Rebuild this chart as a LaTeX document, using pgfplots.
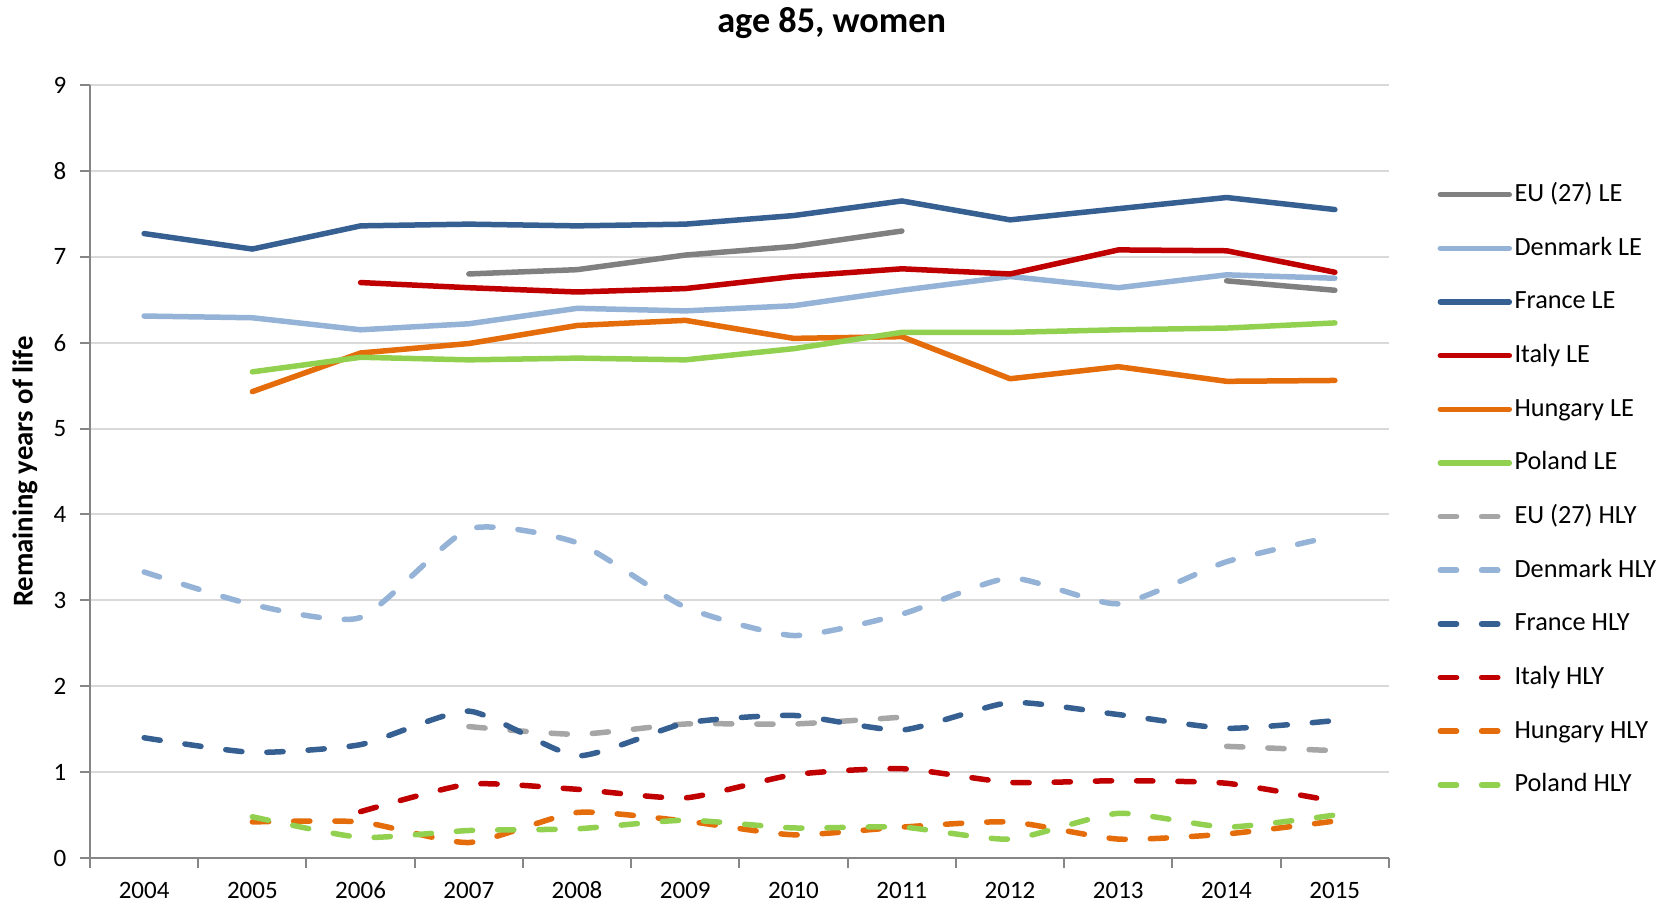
\documentclass[border=0pt]{standalone}
\usepackage{fontspec}
\setmainfont{Carlito}
\usepackage{pgfplots}
\pgfplotsset{compat=1.18}
\definecolor{eule}{RGB}{128,128,128}
\definecolor{euhly}{RGB}{166,166,166}
\definecolor{dk}{RGB}{149,179,215}
\definecolor{fr}{RGB}{55,96,146}
\definecolor{it}{RGB}{192,0,0}
\definecolor{hu}{RGB}{228,108,10}
\definecolor{pl}{RGB}{146,208,80}
\definecolor{gridgray}{RGB}{217,217,217}
\definecolor{axisgray}{RGB}{134,134,134}

\pgfplotsset{
  le/.style={line width=2.2pt, line cap=round, line join=round},
  hly/.style={line width=2.2pt, line cap=round, line join=round, smooth, tension=0.35, dash pattern=on 6.5pt off 10pt},
}

\begin{document}
\begin{tikzpicture}
\path[use as bounding box] (-36pt,-18.8pt) rectangle (628.8pt,343.2pt);
\begin{axis}[
    at={(0,0)}, anchor=south west,
    scale only axis,
    width=519.6pt, height=309.2pt,
    xmin=2003.5, xmax=2015.5,
    ymin=0, ymax=9,
    axis x line*=bottom, axis y line*=left,
    axis line style={draw=axisgray, line width=0.8pt},
    xtick={2003.5,2004.5,...,2015.5},
    xticklabels={},
    extra x ticks={2004,...,2015},
    extra x tick style={major tick length=0pt, grid=none},
    ytick={0,...,9},
    tick style={draw=axisgray, line width=0.8pt},
    tick align=outside,
    major tick length=4pt,
    ymajorgrids, grid style={draw=gridgray, line width=0.8pt},
    /pgf/number format/assume math mode=true,
    /pgf/number format/1000 sep={},
    tick label style={font=\fontsize{10}{12}\selectfont},
    xticklabel style={yshift=-6pt},
    yticklabel style={xshift=-2pt},
    ylabel={Remaining years of life},
    every axis y label/.style={at={(axis description cs:-0.05,0.5)}, rotate=90, anchor=center, font=\fontsize{11.5}{13}\selectfont\bfseries},
    title={age 85, women},
    every axis title/.style={at={(axis description cs:0.571,1.08)}, anchor=center, font=\fontsize{14.5}{16}\selectfont\bfseries},
    legend image code/.code={\draw[#1] (0pt,0pt) -- (27.6pt,0pt);},
    legend cell align=left,
    legend style={draw=none, fill=none, inner sep=0pt,
      at={(axis description cs:1.037,0.879)}, anchor=north west,
      nodes={inner sep=1pt, text height=8pt, text depth=2.5pt},
      row sep=8.96pt,
      font=\fontsize{10.5}{12}\selectfont},
    clip=false,
]
% LE series
\addplot[le, eule] coordinates {(2007,6.80) (2008,6.85) (2009,7.02) (2010,7.12) (2011,7.30)};
\addlegendentry{EU (27) LE}
\addplot[le, eule, forget plot] coordinates {(2014,6.72) (2015,6.61)};
\addplot[le, dk] coordinates {(2004,6.31) (2005,6.29) (2006,6.15) (2007,6.22) (2008,6.40) (2009,6.37) (2010,6.43) (2011,6.61) (2012,6.77) (2013,6.64) (2014,6.79) (2015,6.75)};
\addlegendentry{Denmark LE}
\addplot[le, fr] coordinates {(2004,7.27) (2005,7.09) (2006,7.36) (2007,7.38) (2008,7.36) (2009,7.38) (2010,7.48) (2011,7.65) (2012,7.43) (2013,7.56) (2014,7.69) (2015,7.55)};
\addlegendentry{France LE}
\addplot[le, it] coordinates {(2006,6.70) (2007,6.64) (2008,6.59) (2009,6.63) (2010,6.77) (2011,6.86) (2012,6.80) (2013,7.08) (2014,7.07) (2015,6.82)};
\addlegendentry{Italy LE}
\addplot[le, hu] coordinates {(2005,5.43) (2006,5.88) (2007,5.99) (2008,6.20) (2009,6.26) (2010,6.05) (2011,6.07) (2012,5.58) (2013,5.72) (2014,5.55) (2015,5.56)};
\addlegendentry{Hungary LE}
\addplot[le, pl] coordinates {(2005,5.66) (2006,5.83) (2007,5.80) (2008,5.82) (2009,5.80) (2010,5.93) (2011,6.12) (2012,6.12) (2013,6.15) (2014,6.17) (2015,6.23)};
\addlegendentry{Poland LE}
% HLY series
\addplot[hly, euhly] coordinates {(2007,1.53) (2008,1.44) (2009,1.56) (2010,1.56) (2011,1.64)};
\addlegendentry{EU (27) HLY}
\addplot[hly, euhly, forget plot] coordinates {(2014,1.30) (2015,1.25)};
\addplot[hly, dk] coordinates {(2004,3.33) (2005,2.95) (2006,2.80) (2007,3.83) (2008,3.67) (2009,2.92) (2010,2.59) (2011,2.84) (2012,3.26) (2013,2.96) (2014,3.45) (2015,3.75)};
\addlegendentry{Denmark HLY}
\addplot[hly, fr] coordinates {(2004,1.40) (2005,1.23) (2006,1.32) (2007,1.71) (2008,1.19) (2009,1.57) (2010,1.66) (2011,1.49) (2012,1.81) (2013,1.67) (2014,1.51) (2015,1.60)};
\addlegendentry{France HLY}
\addplot[hly, it] coordinates {(2006,0.54) (2007,0.86) (2008,0.80) (2009,0.70) (2010,0.97) (2011,1.04) (2012,0.88) (2013,0.90) (2014,0.87) (2015,0.66)};
\addlegendentry{Italy HLY}
\addplot[hly, hu] coordinates {(2005,0.42) (2006,0.42) (2007,0.18) (2008,0.53) (2009,0.43) (2010,0.27) (2011,0.36) (2012,0.42) (2013,0.22) (2014,0.28) (2015,0.43)};
\addlegendentry{Hungary HLY}
\addplot[hly, pl] coordinates {(2005,0.48) (2006,0.24) (2007,0.32) (2008,0.34) (2009,0.44) (2010,0.35) (2011,0.36) (2012,0.22) (2013,0.52) (2014,0.36) (2015,0.50)};
\addlegendentry{Poland HLY}
\end{axis}
\end{tikzpicture}
\end{document}
